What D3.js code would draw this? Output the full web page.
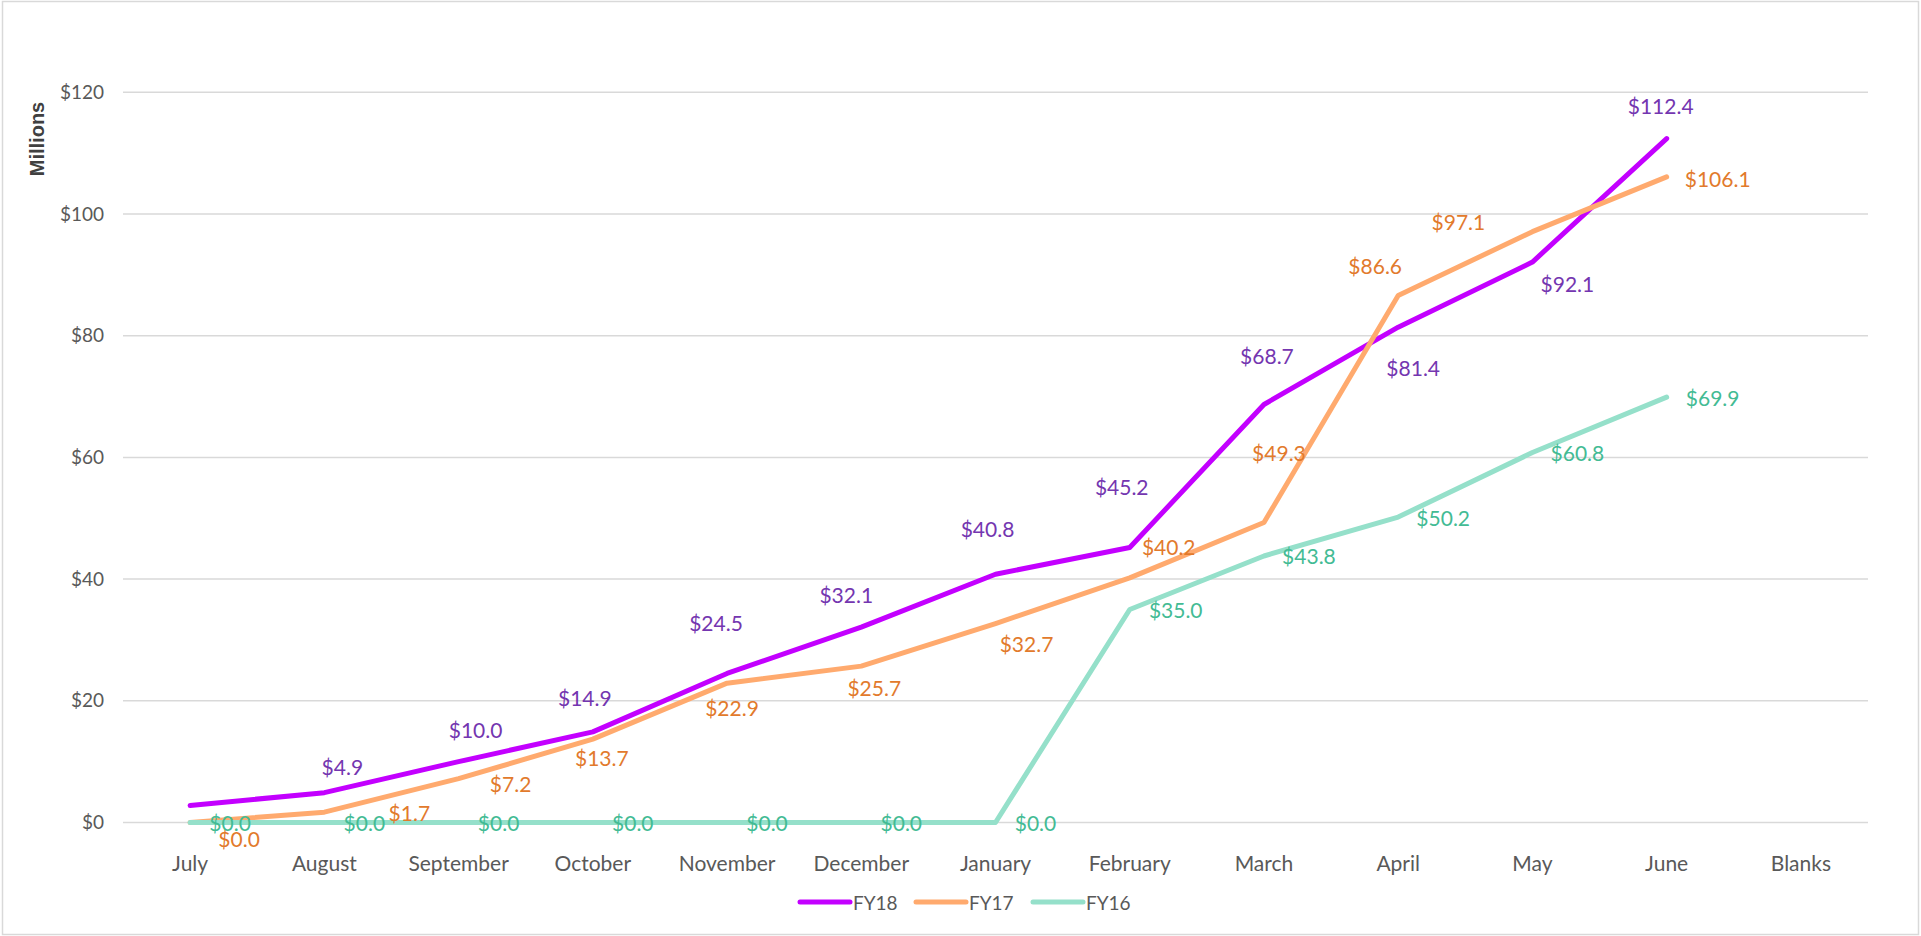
<!DOCTYPE html>
<html>
<head>
<meta charset="utf-8">
<script src="https://cdn.jsdelivr.net/npm/d3@7/dist/d3.min.js"></script>
<style>
  html, body { margin: 0; padding: 0; background: #fff; }
  svg { display: block; }
  text { font-family: Lato, "Open Sans", sans-serif; }
</style>
</head>
<body>
<svg width="1921" height="936"></svg>
<script>
var months = ["July", "August", "September", "October", "November", "December",
  "January", "February", "March", "April", "May", "June", "Blanks"];
var fy18 = [2.8, 4.9, 10.0, 14.9, 24.5, 32.1, 40.8, 45.2, 68.7, 81.4, 92.1, 112.4];
var fy17 = [0.0, 1.7, 7.2, 13.7, 22.9, 25.7, 32.7, 40.2, 49.3, 86.6, 97.1, 106.1];
var fy16 = [0.0, 0.0, 0.0, 0.0, 0.0, 0.0, 0.0, 35.0, 43.8, 50.2, 60.8, 69.9];
var yTicks = [0, 20, 40, 60, 80, 100, 120];

// label placement (pixel offsets of label centre from its point)
var offs18 = [null, [18, -26], [17, -32], [-8, -34], [-11, -51], [-15, -33], [-8, -46],
  [-8, -61], [3, -49], [15, 40], [35, 21], [-6, -33]];
var offs17 = [[49, 16], [85, 0], [52, 5], [9, 18], [5, 24], [13, 21], [31, 20],
  [39, -31], [15, -70], [-23, -30], [-74, -10], [51, 2]];
var offs16 = [[40, 0], [40, 0], [40, 0], [40, 0], [40, 0], [40, 0], [40, 0],
  [46, 0], [45, 0], [45, 0], [45, 0], [46, 0]];

var series = [
  {name: "FY18", values: fy18, line: "#c300ff", label: "#7436b0", offs: offs18},
  {name: "FY17", values: fy17, line: "#ffaa6e", label: "#e27a2c", offs: offs17},
  {name: "FY16", values: fy16, line: "#95e0ca", label: "#43bb94", offs: offs16}
];

var svg = d3.select("svg");

// chart border
svg.append("rect")
    .attr("x", 2.5).attr("y", 1.5)
    .attr("width", 1916).attr("height", 933)
    .attr("fill", "none")
    .attr("stroke", "#d9d9d9")
    .attr("stroke-width", 1.5);

var x = d3.scaleBand().domain(months).range([123, 1868]).padding(0),
    y = d3.scaleLinear().domain([0, 120]).range([822.5, 92.3]);

function cx(i) { return x(months[i]) + x.bandwidth() / 2; }

var fmt = d3.format(".1f");

// gridlines
svg.append("g")
    .selectAll("line")
    .data(yTicks)
    .enter().append("line")
    .attr("x1", 123).attr("x2", 1868)
    .attr("y1", function(d) { return y(d); })
    .attr("y2", function(d) { return y(d); })
    .attr("stroke", "#d9d9d9")
    .attr("stroke-width", 1.5);

// y axis labels
var yAxis = svg.append("g")
    .attr("transform", "translate(104,0)")
    .call(d3.axisLeft(y).tickValues(yTicks).tickSize(0).tickPadding(0)
      .tickFormat(function(d) { return "$" + d; }));
yAxis.select(".domain").remove();
yAxis.selectAll("text")
    .attr("fill", "#595959")
    .style("font-size", "19px")
    .style("font-family", "Lato, sans-serif");

// x axis labels
var xAxis = svg.append("g")
    .attr("transform", "translate(0,822.5)")
    .call(d3.axisBottom(x).tickSize(0).tickPadding(48));
xAxis.select(".domain").remove();
xAxis.selectAll("text")
    .attr("fill", "#595959")
    .attr("dy", 0)
    .style("font-size", "21px")
    .style("font-family", "Lato, sans-serif");

// axis title
svg.append("text")
    .attr("transform", "translate(44,139) rotate(-90)")
    .attr("text-anchor", "middle")
    .attr("fill", "#404040")
    .style("font-family", "'Liberation Sans', Arial, sans-serif")
    .style("font-weight", "bold")
    .style("font-size", "20px")
    .text("Millions");

// lines
var line = d3.line()
    .x(function(d, i) { return cx(i); })
    .y(function(d) { return y(d); });

svg.append("g")
    .selectAll("path")
    .data(series)
    .enter().append("path")
    .attr("d", function(s) { return line(s.values); })
    .attr("fill", "none")
    .attr("stroke", function(s) { return s.line; })
    .attr("stroke-width", 5)
    .attr("stroke-linecap", "round")
    .attr("stroke-linejoin", "round");

// data labels
series.forEach(function(s) {
  svg.append("g")
      .selectAll("text")
      .data(s.values.map(function(v, i) { return {v: v, i: i, o: s.offs[i]}; })
        .filter(function(d) { return d.o; }))
      .enter().append("text")
      .attr("x", function(d) { return cx(d.i) + d.o[0]; })
      .attr("y", function(d) { return y(d.v) + d.o[1]; })
      .attr("text-anchor", "middle")
      .attr("dominant-baseline", "central")
      .attr("fill", s.label)
      .style("font-size", "21px")
      .text(function(d) { return "$" + fmt(d.v); });
});

// legend
var legendX = [800, 916, 1033];
var legend = svg.append("g")
    .selectAll("g")
    .data(series)
    .enter().append("g")
    .attr("transform", function(s, i) { return "translate(" + legendX[i] + ",902)"; });
legend.append("line")
    .attr("x1", 0).attr("x2", 50)
    .attr("stroke", function(s) { return s.line; })
    .attr("stroke-width", 5)
    .attr("stroke-linecap", "round");
legend.append("text")
    .attr("x", 53)
    .attr("dominant-baseline", "central")
    .attr("fill", "#595959")
    .style("font-size", "19px")
    .text(function(s) { return s.name; });
</script>
</body>
</html>
